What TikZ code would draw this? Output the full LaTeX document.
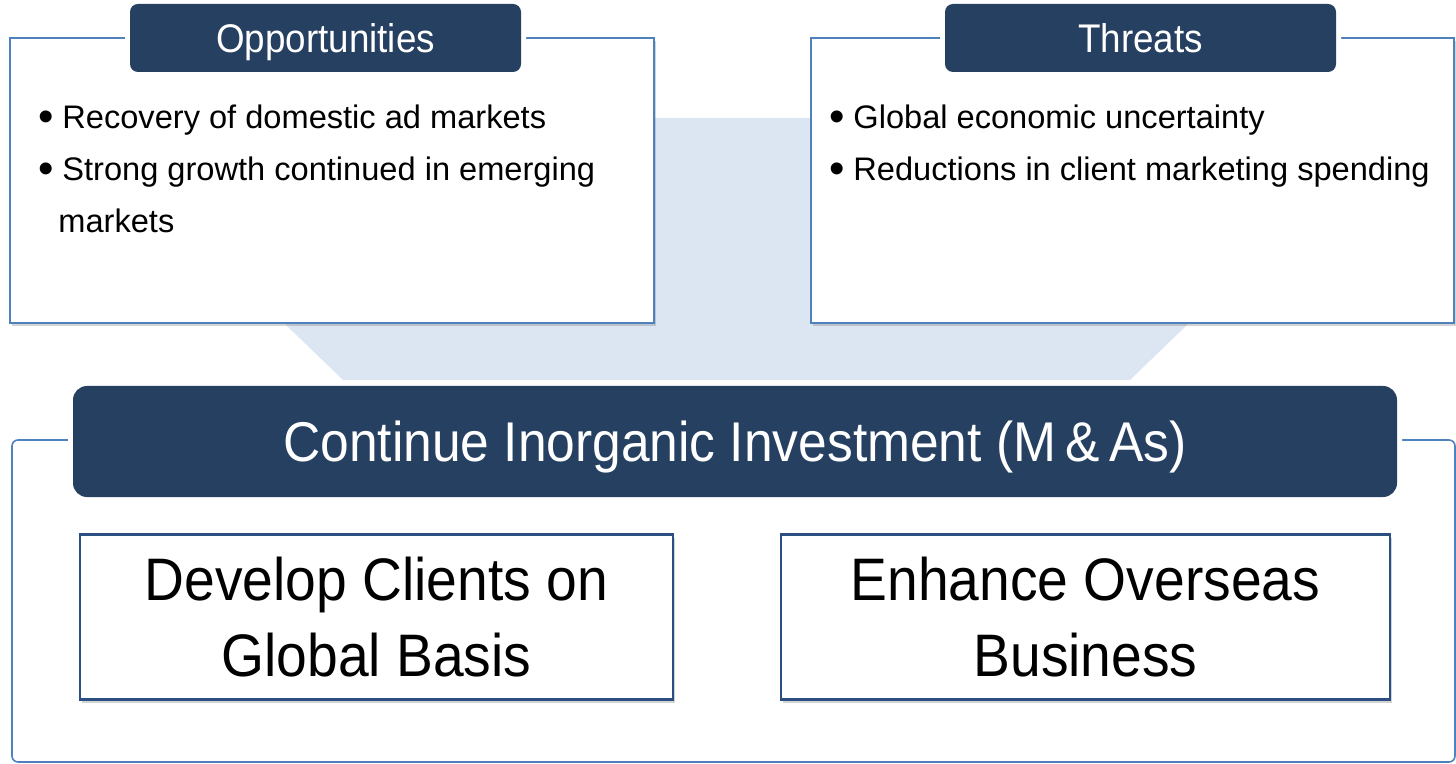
\documentclass[tikz,border=0pt]{standalone}
\usepackage{fontspec}
\setmainfont{Liberation Sans}
\newfontfamily\narrowfont{Liberation Sans}[FakeStretch=0.92]
\usetikzlibrary{shadows}
\definecolor{navy}{HTML}{264061}
\definecolor{frameblue}{HTML}{4F81BD}
\definecolor{funnelblue}{HTML}{DCE6F2}
\definecolor{boxblue}{HTML}{2B4F81}

% bullet in front of a list line
\newcommand\bul{\makebox[12pt][l]{\raisebox{-1.5pt}{\fontsize{22}{22}\selectfont\textbullet}}}

\begin{document}
\begin{tikzpicture}[x=0.5pt, y=-0.5pt,
    panel/.style={draw=frameblue, line width=1pt, fill=white, inner sep=0pt,
      drop shadow={shadow xshift=1pt, shadow yshift=-1.5pt, opacity=.35}},
    head/.style={fill=navy, text=white, inner sep=0pt, rounded corners=4pt,
      text depth=0pt, preaction={draw=white, line width=5pt}},
    goal/.style={draw=boxblue, line width=1.2pt, fill=white, inner sep=0pt, align=center,
      minimum width=296.5pt, minimum height=82.5pt,
      font=\narrowfont\fontsize{30}{38}\selectfont,
      drop shadow={shadow xshift=1.2pt, shadow yshift=-1.5pt, opacity=.35}},
    items/.style={anchor=base west, inner sep=0pt, font=\fontsize{16.3}{26}\selectfont}]
  \useasboundingbox (0,0) rectangle (1456,764);

  % light funnel behind the two panels
  \fill[funnelblue] (286,118) -- (1187,118) -- (1187,325) -- (1130,380)
    -- (343,380) -- (286,325) -- cycle;

  % opportunities / threats
  \node[panel, minimum width=322pt, minimum height=142.5pt] (opp) at (332,180.5) {};
  \node[panel, minimum width=321.5pt, minimum height=142.5pt] (thr) at (1132.5,180.5) {};
  \node[head, minimum width=195.5pt, minimum height=34pt, text height=14.4pt,
    font=\narrowfont\fontsize{20}{24}\selectfont] (opph) at (325.5,38) {Opportunities};
  \node[head, minimum width=195.5pt, minimum height=34pt, text height=14.4pt,
    font=\narrowfont\fontsize{20}{24}\selectfont] (thrh) at (1140.5,38) {Threats};
  \node[items] (opp1) at (38,129) {\bul Recovery of domestic ad markets};
  \node[items] (opp2) at (38,181) {\bul Strong growth continued in emerging};
  \node[items] (opp3) at (58,233) {markets};
  \node[items] (thr1) at (829,129) {\bul Global economic uncertainty};
  \node[items] (thr2) at (829,181) {\bul Reductions in client marketing spending};

  % strategy frame
  \node[draw=frameblue, line width=0.8pt, rounded corners=3pt, inner sep=0pt,
    minimum width=721.5pt, minimum height=161pt] (frame) at (733.5,601) {};
  \node[head, rounded corners=7pt, minimum width=662pt, minimum height=55.5pt,
    text height=20.2pt, font=\narrowfont\fontsize{28}{34}\selectfont] (ma) at (735,441.5)
    {Continue Inorganic Investment (M\,\&\,As)};
  \node[goal] (clients) at (376.5,617) {Develop Clients on\\Global Basis};
  \node[goal, minimum width=304.5pt] (overseas) at (1085.5,617) {Enhance Overseas\\Business};
\end{tikzpicture}
\end{document}
